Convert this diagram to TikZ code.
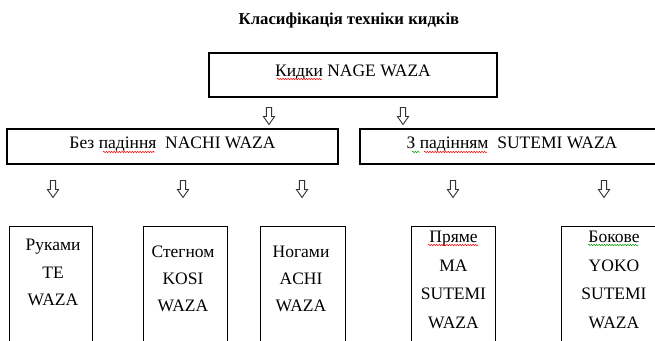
\documentclass[tikz,border=0pt]{standalone}
\usepackage{fontspec}
\setmainfont{Liberation Serif}
\usetikzlibrary{decorations.pathmorphing}
\begin{document}
\begin{tikzpicture}[x=1pt,y=-1pt,
  box/.style={draw=black,line width=1.1pt,inner sep=0pt,font=\fontsize{17.5}{20}\selectfont},
  tallbox/.style={draw=black,line width=1.1pt,inner sep=0pt,anchor=north west,minimum height=140},
  boxtxt/.style={inner sep=0pt,anchor=north,align=center},
  downarr/.pic={\draw[line width=0.9pt,draw=black!80,line join=miter]
     (-2.6,-8.5) -- (2.6,-8.5) -- (2.6,0.5) -- (5.6,0.5) -- (0,8.5) -- (-5.6,0.5) -- (-2.6,0.5) -- cycle;},
  squig/.style={decorate,decoration={snake,amplitude=0.7pt,segment length=2.6pt},line width=0.5pt}
]
\useasboundingbox (0,0) rectangle (655,340);
\clip (0,0) rectangle (655,340);

% title
\node[anchor=base,inner sep=0pt,font=\fontsize{16.7}{20}\selectfont\bfseries] (title) at (349,24) {Класифікація техніки кидків};

% level 1
\node[box,minimum width=288,minimum height=44,text height=12,text depth=10] (top) at (353,75) {Кидки NAGE WAZA};

% level 2
\node[box,minimum width=331,minimum height=35,text height=12,text depth=9] (left) at (172.5,146.5) {Без падіння\ \ NACHI WAZA};
\node[box,minimum width=304,minimum height=35,text height=12,text depth=9] (right) at (512,146.5) {З падінням\ \ SUTEMI WAZA};

% arrows
\pic at (269,116) {downarr};
\pic at (403,116) {downarr};
\pic at (53,189) {downarr};
\pic at (183,189) {downarr};
\pic at (302,189) {downarr};
\pic at (453,189) {downarr};
\pic at (604,189) {downarr};

% level 3 boxes
\node[tallbox,minimum width=83] (b1) at (9,226) {};
\node[tallbox,minimum width=84] (b2) at (143,226) {};
\node[tallbox,minimum width=85] (b3) at (260,226) {};
\node[tallbox,minimum width=84] (b4) at (411,226) {};
\node[tallbox,minimum width=106] (b5) at (561,226) {};

\node[boxtxt,font=\fontsize{17.5}{27.5}\selectfont] (t1) at (53,239) {Руками\\TE\\WAZA};
\node[boxtxt,font=\fontsize{17.5}{27}\selectfont] (t2) at (183,246) {Стегном\\KOSI\\WAZA};
\node[boxtxt,font=\fontsize{17.5}{27}\selectfont] (t3) at (301,246) {Ногами\\ACHI\\WAZA};
\node[boxtxt,font=\fontsize{17.5}{28.5}\selectfont] (t4) at (453.5,231) {Пряме\\MA\\SUTEMI\\WAZA};
\node[boxtxt,font=\fontsize{17.5}{28.5}\selectfont] (t5) at (614,231) {Бокове\\YOKO\\SUTEMI\\WAZA};

% spell-check underlines
\draw[squig,red] (277,79) -- (322,79);
\draw[squig,red] (103,152) -- (155,152);
\draw[squig,green!60!black] (412,152) -- (420,152);
\draw[squig,red] (424,152) -- (487,152);
\draw[squig,red] (428,245) -- (478,245);
\draw[squig,green!60!black] (588,245) -- (638,245);
\end{tikzpicture}
\end{document}
